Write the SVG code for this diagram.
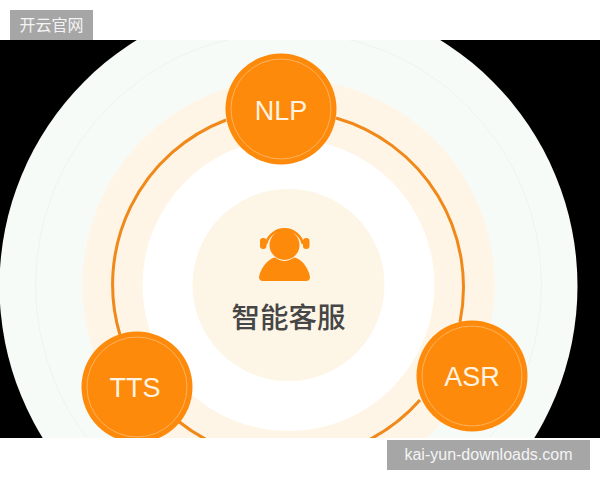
<svg xmlns="http://www.w3.org/2000/svg" width="600" height="480" viewBox="0 0 600 480">
<defs>
<clipPath id="band"><rect x="0" y="40" width="600" height="398"/></clipPath>
</defs>
<style>
.node{fill:#fd8a0a}
.inner{fill:none;stroke:#fdb25e;stroke-width:1}
.lbl{font-family:"Liberation Sans",Arial,sans-serif;font-size:27px;fill:#fff3e2;text-anchor:middle}
.wm{fill:#a6a6a6}
.wmt{fill:#f4f4f4;font-size:16px;text-anchor:middle}
.link{fill:none;stroke:#f0891a;stroke-width:3}
</style>
<rect width="600" height="480" fill="#fff"/>
<g clip-path="url(#band)">
<rect x="0" y="40" width="600" height="398" fill="#000"/>
<g id="backdrop">
<circle cx="288.500" cy="286" r="289" fill="#f6fbf8"/>
<circle cx="288.500" cy="285" r="253" fill="none" stroke="#eef4ee" stroke-width="1"/>
<circle cx="288.500" cy="285" r="206" fill="#fef5e7"/>
<circle cx="288.500" cy="285" r="146" fill="#fff"/>
</g>
<g id="connectors">
<path class="link" d="M336 118A176 176 0 0 1 460 322"/>
<path class="link" d="M420 400A176 176 0 0 1 178 421"/>
<path class="link" d="M120 335A176 176 0 0 1 226 120"/>
</g>
<g id="center">
<circle cx="288.500" cy="285" r="96" fill="#fdf5e6"/>
<g id="icon">
<path d="M266 244A19 19 0 0 1 303 244" fill="none" stroke="#fd8a0a" stroke-width="2.600"/>
<rect x="260" y="238" width="6.500" height="11" rx="3.200" fill="#fd8a0a"/>
<rect x="303" y="238" width="6.500" height="11" rx="3.200" fill="#fd8a0a"/>
<circle cx="284.500" cy="245" r="15" fill="#fd8a0a"/>
<path d="M259 277C261 266 270 258 275 257.500C281 262 288 262 294 257.500C300 258 308 266 310 277Q310 281 306 281H263Q259 281 259 277Z" fill="#fd8a0a"/>
</g>
<text x="288.500" y="328" font-family="'Noto Sans CJK SC','Liberation Sans',sans-serif" font-size="28.500" font-weight="500" fill="#464646" text-anchor="middle">智能客服</text>
</g>
<g id="node-nlp">
<circle class="node" cx="281" cy="109" r="55.500"/>
<circle class="inner" cx="281" cy="109" r="50"/>
<text class="lbl" x="281" y="120">NLP</text>
</g>
<g id="node-tts">
<circle class="node" cx="137" cy="387" r="55.500"/>
<circle class="inner" cx="137" cy="387" r="50"/>
<text class="lbl" x="135" y="397">TTS</text>
</g>
<g id="node-asr">
<circle class="node" cx="472" cy="376" r="55.500"/>
<circle class="inner" cx="472" cy="376" r="50"/>
<text class="lbl" x="472" y="386">ASR</text>
</g>
</g>
<g id="watermark-top">
<rect class="wm" x="10" y="10" width="83" height="30"/>
<text class="wmt" x="51.500" y="31" font-family="'Noto Sans CJK SC','Liberation Sans',sans-serif">开云官网</text>
</g>
<g id="watermark-bottom">
<rect class="wm" x="387" y="440" width="203" height="30"/>
<text class="wmt" x="488.500" y="460" font-family="'Liberation Sans','Noto Sans',sans-serif">kai-yun-downloads.com</text>
</g>
</svg>
